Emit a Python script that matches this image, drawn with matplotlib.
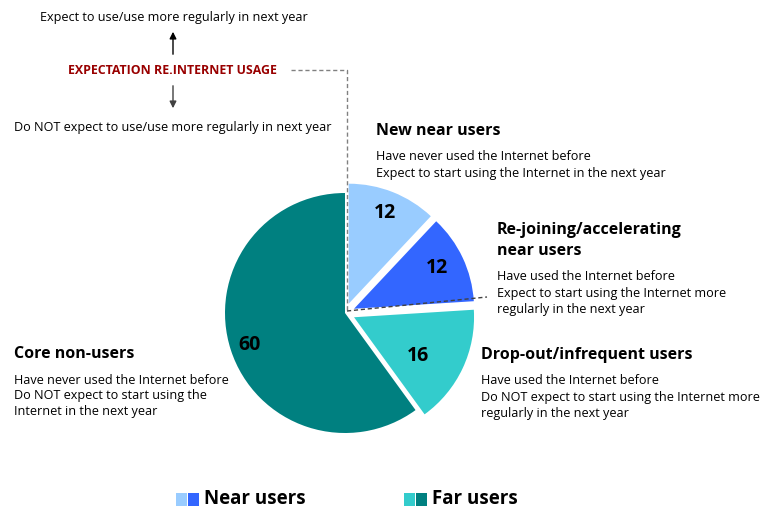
import matplotlib
matplotlib.use("Agg")
import matplotlib.pyplot as plt

# segment shares, clockwise from 12 o'clock
segments = ["New near users", "Re-joining/accelerating near users",
            "Drop-out/infrequent users", "Core non-users"]
shares = [12, 12, 16, 60]
colors = ["#99CCFF", "#3366FF", "#33CCCC", "#008080"]

legend_groups = ["Near users", "Far users"]
legend_colors = [["#99CCFF", "#3366FF"], ["#33CCCC", "#008080"]]

W, H = 767, 513
plt.rcParams["font.family"] = ["Open Sans", "DejaVu Sans"]

fig = plt.figure(figsize=(W / 100, H / 100), dpi=100)
ax = fig.add_axes([0, 0, 1, 1])

def Y(y):
    # pixel row -> data y
    return H - y

cx, cy, r = 345, 313, 120
# explode is in data units here (pixels)
explode = [10, 10, 10, 0]
wedges, _ = ax.pie(shares, colors=colors, explode=explode, startangle=90,
                   counterclock=False, center=(cx, Y(cy)), radius=r,
                   wedgeprops=dict(linewidth=0))
ax.set_xlim(0, W)
ax.set_ylim(0, H)
ax.set_aspect("equal")
ax.axis("off")

# values inside slices
value_pos = [(385, 213), (437, 268), (418, 356), (250, 345)]
for v, (x, y) in zip(shares, value_pos):
    ax.text(x, Y(y), str(v), fontsize=14, fontweight="bold", ha="center", va="center")

# expectation axis at top left
small = 9.1
ax.text(40, Y(17), "Expect to use/use more regularly in next year", fontsize=small, va="center")
ax.text(68, Y(70), "EXPECTATION RE.INTERNET USAGE", fontsize=8.9, fontweight="bold",
        color="#990000", va="center")
ax.text(14, Y(127), "Do NOT expect to use/use more regularly in next year", fontsize=small, va="center")
ax.annotate("", xy=(173, Y(29)), xytext=(173, Y(57)),
            arrowprops=dict(arrowstyle="-|>", color="black", lw=1, mutation_scale=10))
ax.annotate("", xy=(173, Y(111)), xytext=(173, Y(83)),
            arrowprops=dict(arrowstyle="-|>", color="#404040", lw=1, mutation_scale=10))

# dashed guide lines
ax.plot([291, 347, 347], [Y(70), Y(70), Y(311)], ls=(0, (3, 2)), color="#808080", lw=1)
ax.plot([347, 487], [Y(311), Y(297)], ls=(0, (3, 2)), color="#404040", lw=1)

# segment descriptions
def block(x, y, title_lines, body_lines):
    for i, t in enumerate(title_lines):
        ax.text(x, Y(y + i * 21), t, fontsize=11.5, fontweight="bold", va="center")
    y0 = y + (len(title_lines) - 1) * 21 + 26
    for i, t in enumerate(body_lines):
        ax.text(x, Y(y0 + i * 16), t, fontsize=small, va="center")

block(376, 131, ["New near users"],
      ["Have never used the Internet before",
       "Expect to start using the Internet in the next year"])
block(497, 230, ["Re-joining/accelerating", "near users"],
      ["Have used the Internet before",
       "Expect to start using the Internet more",
       "regularly in the next year"])
block(481, 355, ["Drop-out/infrequent users"],
      ["Have used the Internet before",
       "Do NOT expect to start using the Internet more",
       "regularly in the next year"])
block(14, 354, ["Core non-users"],
      ["Have never used the Internet before",
       "Do NOT expect to start using the",
       "Internet in the next year"])

# legend
legend_x = [176, 404]
for lx, name, cols in zip(legend_x, legend_groups, legend_colors):
    for j, c in enumerate(cols):
        ax.add_patch(plt.Rectangle((lx + j * 12, Y(506)), 11, 13, color=c, lw=0))
    ax.text(lx + 28, Y(499), name, fontsize=13.5, fontweight="bold", va="center")

fig.savefig("out.png", dpi=100)
